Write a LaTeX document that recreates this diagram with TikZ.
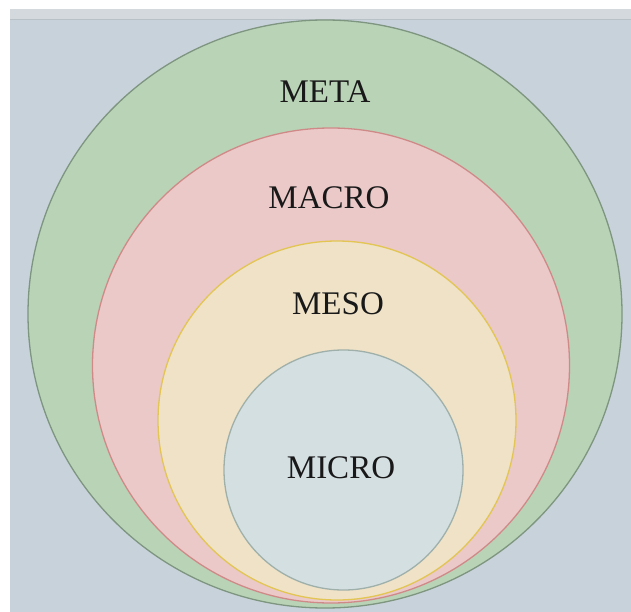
\documentclass[tikz,border=0pt]{standalone}
\usepackage{fontspec}
\setmainfont{Liberation Serif}
\definecolor{bgblue}{HTML}{C8D2DB}
\definecolor{bandgray}{HTML}{D3D9DC}
\definecolor{bandline}{HTML}{B8C2C6}
\definecolor{metafill}{HTML}{B9D3B7}
\definecolor{metaline}{HTML}{7E957F}
\definecolor{macrofill}{HTML}{EBC9C8}
\definecolor{macroline}{HTML}{CF8A88}
\definecolor{mesofill}{HTML}{EFE2C6}
\definecolor{mesoline}{HTML}{E2C553}
\definecolor{microfill}{HTML}{D4DFE2}
\definecolor{microline}{HTML}{9FB0AA}
\tikzset{
  ring/.style={line width=1.3pt},
  lbl/.style={font=\fontsize{33}{36}\selectfont, text=black!90, inner sep=0pt}
}
\begin{document}
\begin{tikzpicture}[x=1pt,y=-1pt]
\useasboundingbox (0,0) rectangle (631,612);
\fill[white] (0,0) rectangle (631,612);
\fill[bgblue] (10,9) rectangle (631,612);
\fill[bandgray] (10,9) rectangle (631,20);
\draw[bandline, line width=1pt] (10,19.5) -- (631,19.5);
\draw[ring, fill=metafill, draw=metaline] (325,314) ellipse [x radius=297, y radius=294];
\draw[ring, fill=macrofill, draw=macroline] (331,365.5) ellipse [x radius=238.5, y radius=237.5];
\draw[ring, fill=mesofill, draw=mesoline] (337,420.5) ellipse [x radius=179, y radius=179.5];
\draw[ring, fill=microfill, draw=microline] (343.5,470) ellipse [x radius=119.5, y radius=120];
\node[lbl] (meta) at (325,92) {META};
\node[lbl] (macro) at (329,198) {MACRO};
\node[lbl] (meso) at (338,304) {MESO};
\node[lbl] (micro) at (341,468) {MICRO};
\end{tikzpicture}
\end{document}
